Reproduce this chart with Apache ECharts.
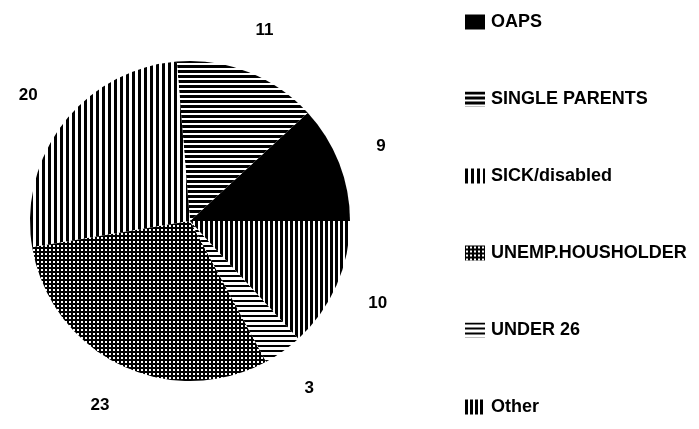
<!DOCTYPE html>
<html>
<head>
<meta charset="utf-8">
<script src="https://cdn.jsdelivr.net/npm/echarts@6/dist/echarts.min.js"></script>
<style>
  html, body { margin: 0; padding: 0; background: #fff; }
  #chart { width: 699px; height: 429px; }
</style>
</head>
<body>
<div id="chart"></div>
<script>
// Households by category
const categories = ['OAPS', 'SINGLE PARENTS', 'SICK/disabled', 'UNEMP.HOUSHOLDER', 'UNDER 26', 'Other'];
const values = [9, 11, 20, 23, 3, 10];
const fills = ['solid', 'hlines', 'vlinesThin', 'grid', 'hlinesFine', 'vlinesHeavy'];

// Monochrome hatch tiles used as pattern fills
function tile(kind) {
  if (kind === 'solid') return '#000';
  const c = document.createElement('canvas');
  const g = c.getContext('2d');
  if (kind === 'hlines') {
    c.width = 8; c.height = 5;
    g.fillStyle = '#fff'; g.fillRect(0, 0, 8, 5);
    g.fillStyle = '#000'; g.fillRect(0, 0, 8, 3);
  } else if (kind === 'hlinesFine') {
    c.width = 8; c.height = 5;
    g.fillStyle = '#fff'; g.fillRect(0, 0, 8, 5);
    g.fillStyle = '#000'; g.fillRect(0, 0, 8, 2);
  } else if (kind === 'vlinesThin') {
    c.width = 6; c.height = 8;
    g.fillStyle = '#fff'; g.fillRect(0, 0, 6, 8);
    g.fillStyle = '#000'; g.fillRect(0, 0, 3, 8);
  } else if (kind === 'vlinesHeavy') {
    c.width = 5; c.height = 8;
    g.fillStyle = '#fff'; g.fillRect(0, 0, 5, 8);
    g.fillStyle = '#000'; g.fillRect(0, 0, 3, 8);
  } else if (kind === 'grid') {
    c.width = 4; c.height = 4;
    g.fillStyle = '#000'; g.fillRect(0, 0, 4, 4);
    g.fillStyle = '#fff'; g.fillRect(1, 1, 2, 2);
  }
  return { image: c, repeat: 'repeat' };
}

const sliceData = categories.map((name, i) => ({
  name: name,
  value: values[i],
  itemStyle: { color: tile(fills[i]) }
}));
const labelData = categories.map((name, i) => ({ name: name, value: values[i] }));

const FONT = '"Liberation Sans", Arial, Helvetica, sans-serif';

const chart = echarts.init(document.getElementById('chart'), null, { renderer: 'canvas' });
chart.setOption({
  backgroundColor: '#fff',
  animation: false,
  legend: {
    orient: 'vertical',
    left: 460,
    top: 8,
    itemWidth: 20,
    itemHeight: 15,
    itemGap: 59,
    icon: 'rect',
    selectedMode: false,
    data: categories,
    textStyle: { fontFamily: FONT, fontWeight: 'bold', fontSize: 18, color: '#000', padding: [0, 0, 0, 1] }
  },
  series: [
    {
      type: 'pie',
      center: [190, 221],
      radius: [0, 160],
      startAngle: 0,
      clockwise: false,
      silent: true,
      label: { show: false },
      labelLine: { show: false },
      itemStyle: { borderWidth: 0 },
      data: sliceData
    },
    {
      // transparent ring that carries the value labels just outside the pie
      type: 'pie',
      center: [190, 221],
      radius: [160, 244],
      startAngle: 0,
      clockwise: false,
      silent: true,
      itemStyle: { color: 'rgba(0,0,0,0)', borderWidth: 0 },
      label: {
        show: true,
        position: 'inside',
        rotate: 0,
        formatter: '{c}',
        fontFamily: FONT,
        fontWeight: 'bold',
        fontSize: 17,
        color: '#000'
      },
      labelLine: { show: false },
      data: labelData
    }
  ]
});
</script>
</body>
</html>
